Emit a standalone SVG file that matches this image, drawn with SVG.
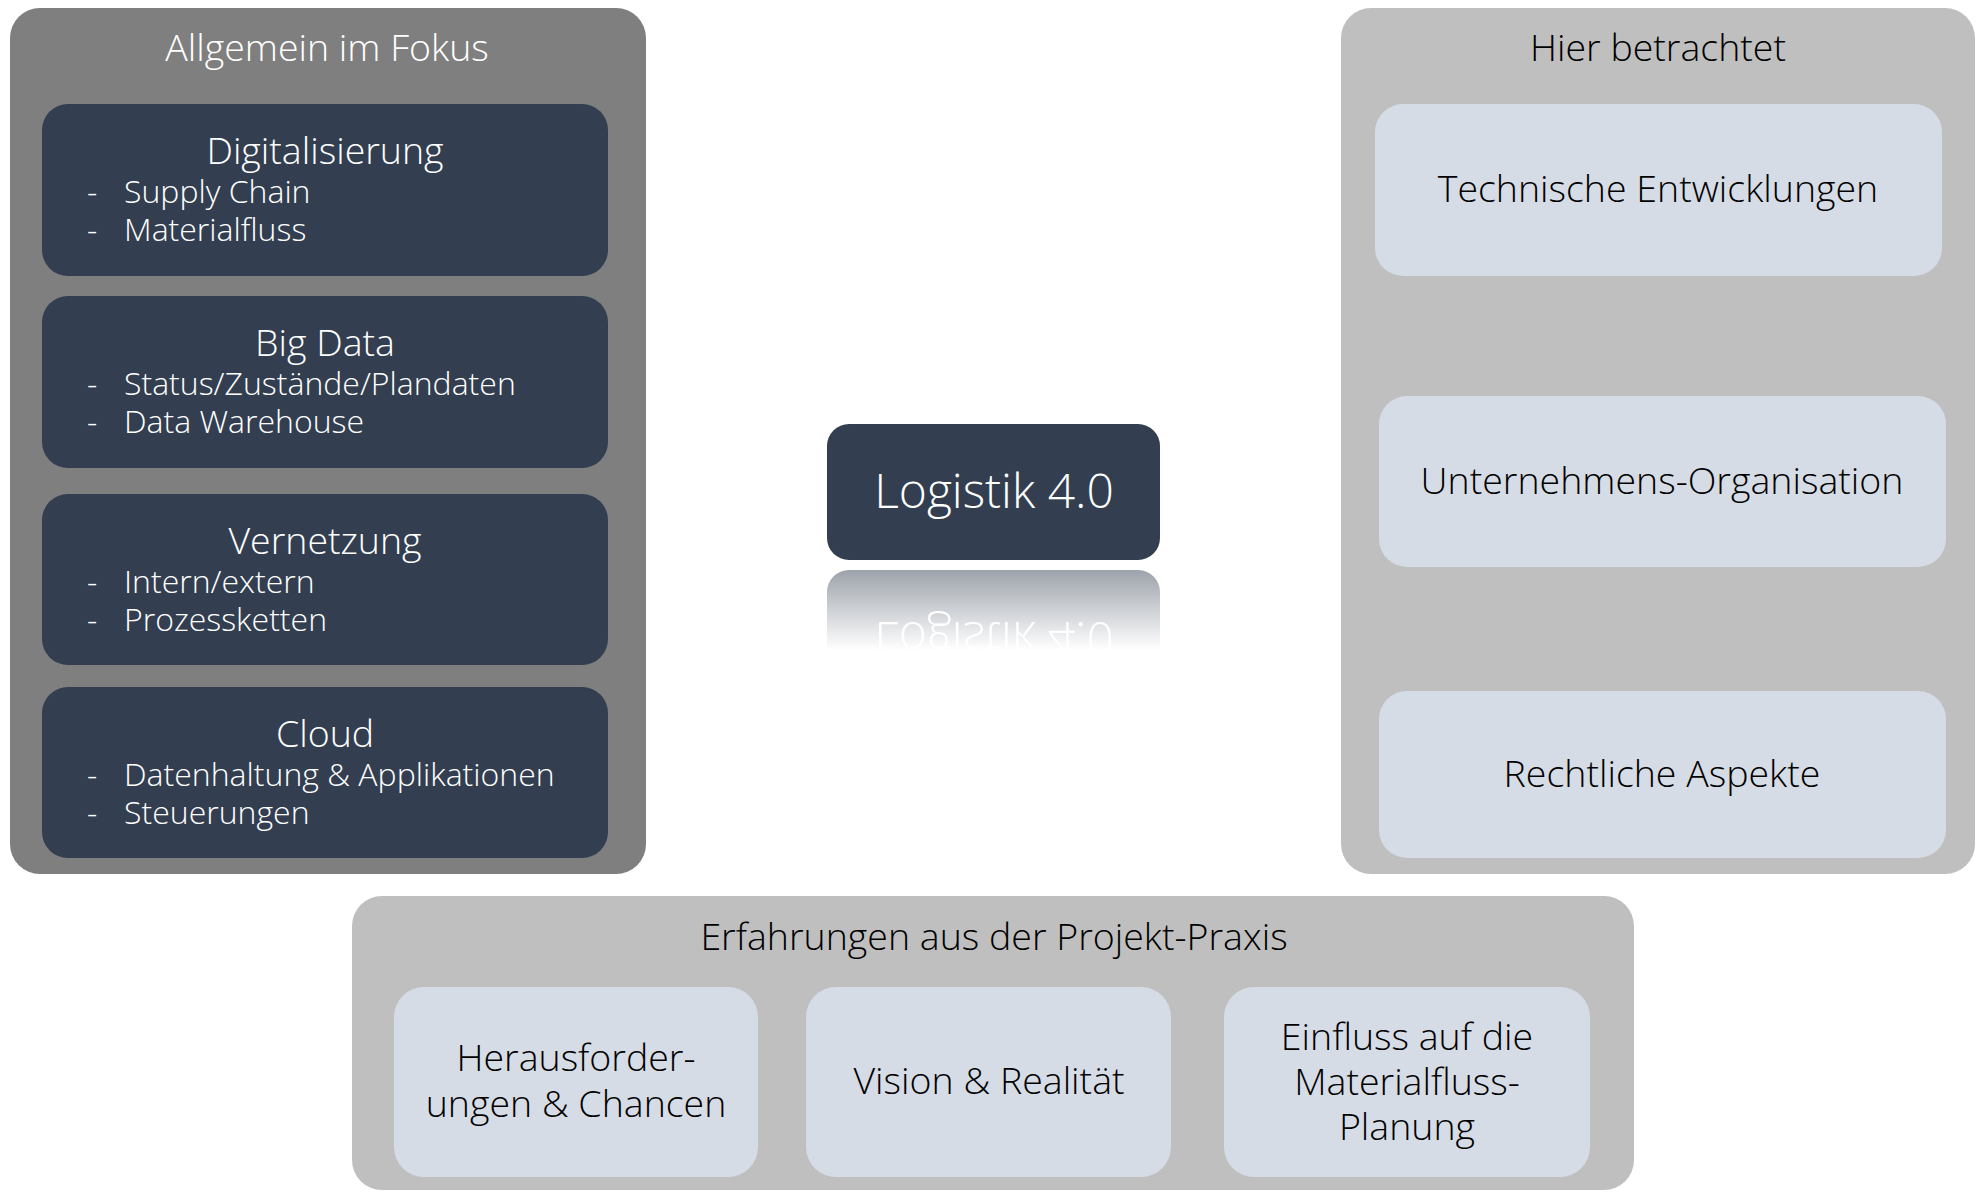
<svg xmlns="http://www.w3.org/2000/svg" width="1985" height="1192" viewBox="0 0 1985 1192">
  <style>
    text { font-family: "Open Sans", "Noto Sans", "Liberation Sans", sans-serif; font-weight: 300; }
    .panelDark { fill: #7f7f7f; }
    .panelLight { fill: #bfbfbf; }
    .dark { fill: #333f50; }
    .light { fill: #d6dce5; }
    .t36 { font-size: 37.5px; }
    .t31 { font-size: 32px; }
    .w { fill: #ffffff; }
    .k { fill: #000000; }
    .mid { text-anchor: middle; }
  </style>
  <defs>
    <linearGradient id="fade" gradientUnits="userSpaceOnUse" x1="0" y1="570" x2="0" y2="650">
      <stop offset="0" stop-color="#ffffff" stop-opacity="0.48"/>
      <stop offset="1" stop-color="#ffffff" stop-opacity="0"/>
    </linearGradient>
    <mask id="reflMask" maskUnits="userSpaceOnUse" x="800" y="560" width="400" height="100">
      <rect x="800" y="560" width="400" height="100" fill="url(#fade)"/>
    </mask>
  </defs>

  <rect width="1985" height="1192" fill="#ffffff"/>

  <g id="panel-allgemein">
    <rect class="panelDark" x="10" y="8" width="636" height="866" rx="30"/>
    <text class="t36 w mid" x="327" y="61">Allgemein im Fokus</text>
  </g>

  <g id="node-digitalisierung">
    <rect class="dark" x="42" y="104" width="566" height="172" rx="26"/>
    <text class="t36 w mid" x="325" y="164">Digitalisierung</text>
    <text class="t31 w" x="87" y="203">-</text><text class="t31 w" x="124" y="203">Supply Chain</text>
    <text class="t31 w" x="87" y="241">-</text><text class="t31 w" x="124" y="241">Materialfluss</text>
  </g>
  <g id="node-bigdata">
    <rect class="dark" x="42" y="296" width="566" height="172" rx="26"/>
    <text class="t36 w mid" x="325" y="356">Big Data</text>
    <text class="t31 w" x="87" y="395">-</text><text class="t31 w" x="124" y="395">Status/Zustände/Plandaten</text>
    <text class="t31 w" x="87" y="433">-</text><text class="t31 w" x="124" y="433">Data Warehouse</text>
  </g>
  <g id="node-vernetzung">
    <rect class="dark" x="42" y="494" width="566" height="171" rx="26"/>
    <text class="t36 w mid" x="325" y="554">Vernetzung</text>
    <text class="t31 w" x="87" y="593">-</text><text class="t31 w" x="124" y="593">Intern/extern</text>
    <text class="t31 w" x="87" y="631">-</text><text class="t31 w" x="124" y="631">Prozessketten</text>
  </g>
  <g id="node-cloud">
    <rect class="dark" x="42" y="687" width="566" height="171" rx="26"/>
    <text class="t36 w mid" x="325" y="747">Cloud</text>
    <text class="t31 w" x="87" y="786">-</text><text class="t31 w" x="124" y="786">Datenhaltung &amp; Applikationen</text>
    <text class="t31 w" x="87" y="824">-</text><text class="t31 w" x="124" y="824">Steuerungen</text>
  </g>

  <g id="node-logistik">
    <rect class="dark" x="827" y="424" width="333" height="136" rx="22"/>
    <text class="w mid" x="994" y="508" style="font-size:48px">Logistik 4.0</text>
    <g mask="url(#reflMask)">
      <g transform="translate(0,1130) scale(1,-1)">
        <rect fill="#333f50" x="827" y="424" width="333" height="136" rx="22"/>
        <text fill="#ffffff" text-anchor="middle" x="994" y="508" style="font-size:48px">Logistik 4.0</text>
      </g>
    </g>
  </g>

  <g id="panel-hier">
    <rect class="panelLight" x="1341" y="8" width="634" height="866" rx="30"/>
    <text class="t36 k mid" x="1658" y="61">Hier betrachtet</text>
  </g>
  <g id="node-technische">
    <rect class="light" x="1375" y="104" width="567" height="172" rx="28"/>
    <text class="t36 k mid" x="1658" y="202">Technische Entwicklungen</text>
  </g>
  <g id="node-unternehmen">
    <rect class="light" x="1379" y="396" width="567" height="171" rx="28"/>
    <text class="t36 k mid" x="1662" y="494">Unternehmens-Organisation</text>
  </g>
  <g id="node-rechtlich">
    <rect class="light" x="1379" y="691" width="567" height="167" rx="28"/>
    <text class="t36 k mid" x="1662" y="787">Rechtliche Aspekte</text>
  </g>

  <g id="panel-erfahrungen">
    <rect class="panelLight" x="352" y="896" width="1282" height="294" rx="30"/>
    <text class="t36 k mid" x="994" y="950">Erfahrungen aus der Projekt-Praxis</text>
  </g>
  <g id="node-herausforderungen">
    <rect class="light" x="394" y="987" width="364" height="190" rx="30"/>
    <text class="t36 k mid" x="576" y="1071">Herausforder-</text>
    <text class="t36 k mid" x="576" y="1117">ungen &amp; Chancen</text>
  </g>
  <g id="node-vision">
    <rect class="light" x="806" y="987" width="365" height="190" rx="30"/>
    <text class="t36 k mid" x="989" y="1094">Vision &amp; Realität</text>
  </g>
  <g id="node-einfluss">
    <rect class="light" x="1224" y="987" width="366" height="190" rx="30"/>
    <text class="t36 k mid" x="1407" y="1050">Einfluss auf die</text>
    <text class="t36 k mid" x="1407" y="1095">Materialfluss-</text>
    <text class="t36 k mid" x="1407" y="1140">Planung</text>
  </g>

  <g id="connectors"/>
</svg>
